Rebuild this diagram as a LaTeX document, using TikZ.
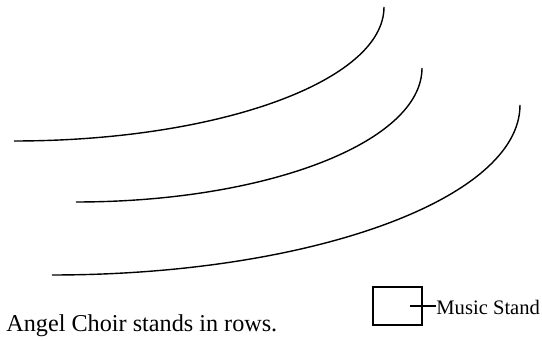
\documentclass[tikz,border=0pt]{standalone}
\usepackage{fontspec}
\setmainfont{Liberation Serif}
\usetikzlibrary{positioning}

\begin{document}
\begin{tikzpicture}[
    x=0.5pt, y=0.5pt,
    row/.style={draw=black, line width=0.7pt},
    standbox/.style={rectangle, draw=black, line width=0.7pt,
                minimum width=24.5pt, minimum height=19pt, inner sep=0pt},
    lbl/.style={inner sep=0pt, anchor=base west}
]
    \useasboundingbox (0,0) rectangle (542,341);

    % rows of the choir
    \coordinate (row1) at (14,200);
    \coordinate (row2) at (76,139);
    \coordinate (row3) at (52,66);
    \draw[row] (row1) arc[start angle=270, end angle=360, x radius=370, y radius=134];
    \draw[row] (row2) arc[start angle=270, end angle=360, x radius=346, y radius=134];
    \draw[row] (row3) arc[start angle=270, end angle=360, x radius=468, y radius=170];

    % legend
    \node[standbox] (stand) at (397.5,35) {};
    \node[lbl, font=\fontsize{10.3}{12}\selectfont] (standlabel) at (436,26) {Music Stand};
    \draw[line width=0.7pt] ([xshift=-6.5pt]stand.east) -- (stand.east -| standlabel.west);

    \node[lbl, font=\fontsize{12.1}{14}\selectfont] (caption) at (6,9.5) {Angel Choir stands in rows.};
\end{tikzpicture}
\end{document}
